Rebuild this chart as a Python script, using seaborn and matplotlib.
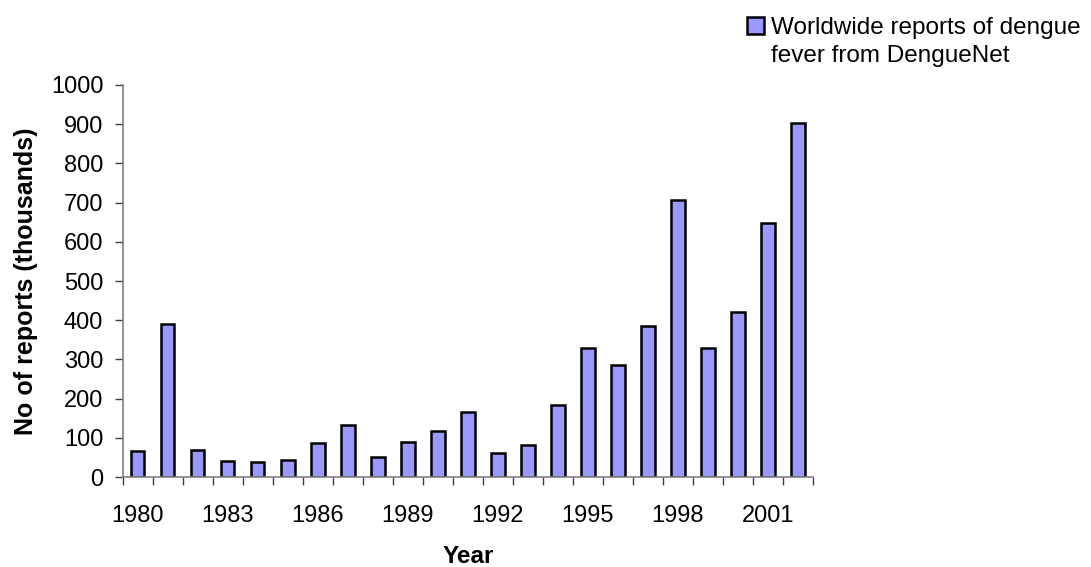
import matplotlib
matplotlib.use("Agg")
import matplotlib.pyplot as plt
import seaborn as sns
import numpy as np
import pandas as pd
from matplotlib.patches import Patch

# data (thousands of reports)
years = list(range(1980, 2003))
reports = [66, 391, 68, 40, 38, 43, 87, 133, 50, 89, 117, 165,
           60, 82, 183, 330, 286, 386, 707, 330, 422, 647, 904]
legend_lines = ["Worldwide reports of dengue", "fever from DengueNet"]
label_years = [1980, 1983, 1986, 1989, 1992, 1995, 1998, 2001]

sns.set_style("white")
plt.rcParams['font.family'] = ['Liberation Sans', 'DejaVu Sans']
plt.rcParams['text.color'] = 'black'
plt.rcParams['axes.labelcolor'] = 'black'
plt.rcParams['xtick.color'] = 'black'
plt.rcParams['ytick.color'] = 'black'

df = pd.DataFrame({"Year": years, "Reports": reports})

fig = plt.figure(figsize=(10.91, 5.67), dpi=100)
ax = fig.add_axes([0.1125, 0.1587, 0.6325, 0.6914])

sns.barplot(data=df, x="Year", y="Reports", color="#9999FF", saturation=1,
            width=0.45, edgecolor="black", linewidth=1.8, label=legend_lines[0], ax=ax)
handles, labels = ax.get_legend_handles_labels()
if ax.get_legend() is not None:
    ax.get_legend().remove()

ax.set_xlim(-0.5, len(years) - 0.5)
ax.set_ylim(0, 1000)
ax.set_yticks(np.arange(0, 1001, 100))

# major ticks = labels only, minor ticks = category boundaries
pos = [years.index(y) for y in label_years]
ax.set_xticks(pos)
ax.set_xticklabels([str(y) for y in label_years])
ax.set_xticks(np.arange(-0.5, len(years), 1), minor=True)
ax.tick_params(axis="x", which="major", length=0, pad=20, labelsize=17)
ax.tick_params(axis="x", which="minor", length=6, width=1, color="#404040", direction="out")
ax.tick_params(axis="y", length=6, width=1, color="#404040", direction="out", labelsize=17, pad=8)
ax.tick_params(bottom=True, left=True, which="both")

for s in ["top", "right"]:
    ax.spines[s].set_visible(False)
for s in ["left", "bottom"]:
    ax.spines[s].set_color("#808080")
    ax.spines[s].set_linewidth(1.2)

ax.set_xlabel("Year", fontsize=17.5, fontweight="bold", labelpad=13)
ax.set_ylabel("No of reports (thousands)", fontsize=18, fontweight="bold", labelpad=9)

# second legend line carries an invisible handle so the marker sits on line one
blank = Patch(facecolor="none", edgecolor="none")
fig.legend([handles[0], blank], legend_lines, loc="upper left",
           bbox_to_anchor=(0.6847, 0.970), borderaxespad=0, borderpad=0,
           frameon=False, fontsize=17.5, handlelength=0.7, handleheight=0.7,
           handletextpad=0.3, labelspacing=0.25)

fig.savefig("out.png", dpi=100)
